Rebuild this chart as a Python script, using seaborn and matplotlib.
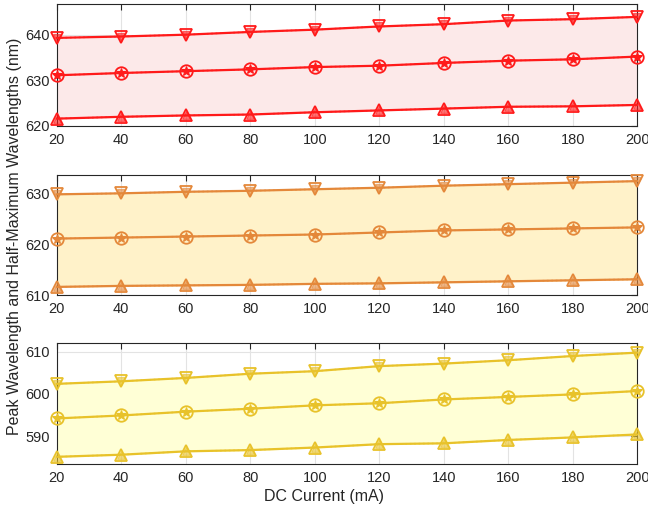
import numpy as np
import pandas as pd
import matplotlib
matplotlib.use("Agg")
import matplotlib.pyplot as plt
import seaborn as sns

# data
current = [20, 40, 60, 80, 100, 120, 140, 160, 180, 200]

red_upper = [639.3, 639.6, 640.0, 640.6, 641.1, 641.8, 642.3, 643.1, 643.4, 643.9]
red_peak = [631.1, 631.6, 632.0, 632.4, 632.9, 633.2, 633.8, 634.3, 634.6, 635.2]
red_lower = [621.6, 622.0, 622.3, 622.5, 623.0, 623.4, 623.8, 624.2, 624.3, 624.6]

orange_upper = [629.8, 630.0, 630.3, 630.5, 630.8, 631.1, 631.5, 631.8, 632.1, 632.4]
orange_peak = [621.1, 621.3, 621.5, 621.7, 621.9, 622.3, 622.7, 622.9, 623.1, 623.3]
orange_lower = [611.6, 611.8, 611.9, 612.0, 612.2, 612.3, 612.5, 612.7, 612.9, 613.1]

yellow_upper = [602.4, 603.0, 603.8, 604.8, 605.4, 606.6, 607.2, 608.0, 609.0, 609.8]
yellow_peak = [594.2, 594.9, 595.8, 596.5, 597.3, 597.8, 598.7, 599.3, 599.9, 600.7]
yellow_lower = [585.1, 585.6, 586.4, 586.7, 587.3, 588.1, 588.3, 589.1, 589.7, 590.4]

panels = [
    (red_upper, red_peak, red_lower, "#FF1A1A", "#FCE9E9", (620, 646.7), [620, 630, 640]),
    (orange_upper, orange_peak, orange_lower, "#E4883A", "#FFF2C9", (610, 633.6), [610, 620, 630]),
    (yellow_upper, yellow_peak, yellow_lower, "#E8C22A", "#FFFFD6", (583.4, 612), [590, 600, 610]),
]

sns.set_style("whitegrid")
plt.rcParams['font.family'] = ['Liberation Sans', 'DejaVu Sans']

fig = plt.figure(figsize=(6.48, 5.14), dpi=100)
boxes = [(0.0875, 0.755, 0.896, 0.237),
         (0.0875, 0.426, 0.896, 0.2335),
         (0.0875, 0.0973, 0.896, 0.2347)]

for (up, pk, lo, col, fill, ylim, yt), box in zip(panels, boxes):
    ax = fig.add_axes(box)
    ax.fill_between(current, lo, up, color=fill, zorder=1)
    df = pd.DataFrame({'x': current, 'up': up, 'pk': pk, 'lo': lo})
    for key, mk in [('up', 'v'), ('pk', 'o'), ('lo', '^')]:
        sns.lineplot(data=df, x='x', y=key, ax=ax, color=col, linewidth=1.6,
                     marker=mk, markersize=9, markerfacecolor='none',
                     markeredgecolor=col, markeredgewidth=1.3, zorder=3,
                     clip_on=False)
        sns.lineplot(data=df, x='x', y=key, ax=ax, color=col, linewidth=1.2,
                     linestyle=':', alpha=0.7, zorder=2)
        if key == 'pk':
            ax.plot(current, pk, linestyle='none', marker='*', markersize=7,
                    color=col, markeredgewidth=0.8, zorder=4, clip_on=False)
        else:
            ax.plot(current, df[key], linestyle='none', marker=mk, markersize=6,
                    color=col, alpha=0.6, zorder=4, clip_on=False)
    ax.set_xlim(20, 200)
    ax.set_ylim(*ylim)
    ax.set_xticks(current)
    ax.set_yticks(yt)
    ax.set_xlabel('')
    ax.set_ylabel('')
    ax.grid(True, color='#E3E3E3', linewidth=0.8)
    ax.tick_params(direction='in', length=4, labelsize=10.5, colors='#262626',
                   top=True, right=True, pad=5)
    for s in ax.spines.values():
        s.set_color('#262626')
        s.set_linewidth(0.8)
    ax.set_axisbelow(True)

fig.text(0.5, 0.035, 'DC Current (mA)', ha='center', va='center', fontsize=11.5, color='#262626')
fig.text(0.022, 0.54, 'Peak Wavelength and Half-Maximum Wavelengths (nm)', rotation=90,
         ha='center', va='center', fontsize=11.5, color='#262626')

fig.savefig('out.png', dpi=100)
